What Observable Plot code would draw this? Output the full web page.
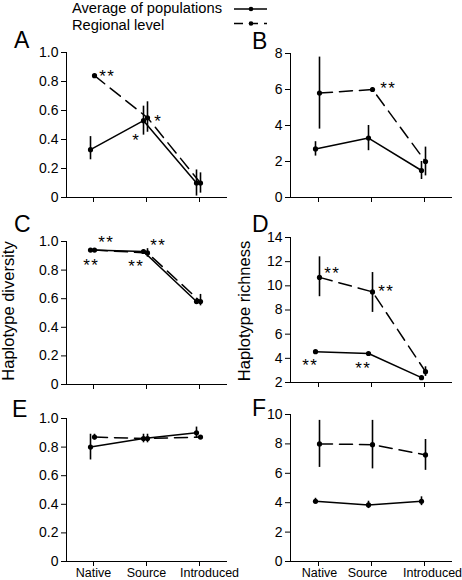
<!DOCTYPE html>
<html><head><meta charset="utf-8">
<script src="https://cdn.jsdelivr.net/npm/d3@7"></script>
<script src="https://cdn.jsdelivr.net/npm/@observablehq/plot@0.6"></script>
<style>
body{margin:0;background:#fff;}
#wrap{position:relative;width:462px;height:580px;overflow:hidden;font-family:"Liberation Sans",Arial,Helvetica,sans-serif;color:#000;}
#wrap g[aria-label^="y-axis"] text{font-size:14px;}
</style></head><body><div id="wrap"></div>
<script>
// ---------- data ----------
const categories = ["Native", "Source", "Introduced"];
const seriesNames = ["Average of populations", "Regional level"];
const panelLetters = ["A", "B", "C", "D", "E", "F"];
const yTitles = ["Haplotype diversity", "Haplotype richness"];

// Panel A
const aAvg = [0.33, 0.53, 0.10], aAvgLo = [0.26, 0.43, 0.01], aAvgHi = [0.42, 0.63, 0.19];
const aReg = [0.84, 0.55, 0.10], aRegLo = [0.84, 0.45, 0.03], aRegHi = [0.84, 0.66, 0.17];
const aTicks = [0, 0.2, 0.4, 0.6, 0.8, 1.0];
const aStars = [["Native", "reg", "**"], ["Source", "reg", "*"], ["Source", "avg", "*"]];
// Panel B
const bAvg = [2.7, 3.3, 1.5], bAvgLo = [2.3, 2.6, 1.0], bAvgHi = [3.1, 4.0, 2.0];
const bReg = [5.8, 6.0, 2.0], bRegLo = [3.8, 5.9, 1.2], bRegHi = [7.8, 6.1, 2.8];
const bTicks = [0, 2, 4, 6, 8];
const bStars = [["Source", "reg", "**"]];
// Panel C
const cAvg = [0.94, 0.93, 0.58], cAvgLo = [0.93, 0.91, 0.56], cAvgHi = [0.95, 0.94, 0.60];
const cReg = [0.94, 0.92, 0.58], cRegLo = [0.93, 0.89, 0.55], cRegHi = [0.95, 0.95, 0.63];
const cTicks = [0, 0.2, 0.4, 0.6, 0.8, 1.0];
const cStars = [["Native", "reg", "**"], ["Native", "avg", "**"], ["Source", "reg", "**"], ["Source", "avg", "**"]];
// Panel D
const dAvg = [4.55, 4.4, 2.4], dAvgLo = [4.5, 4.3, 2.3], dAvgHi = [4.6, 4.5, 2.5];
const dReg = [10.7, 9.5, 2.9], dRegLo = [9.1, 7.8, 2.5], dRegHi = [12.4, 11.1, 3.3];
const dTicks = [2, 4, 6, 8, 10, 12, 14];
const dStars = [["Native", "reg", "**"], ["Source", "reg", "**"], ["Native", "avg", "**"], ["Source", "avg", "**"]];
// Panel E
const eAvg = [0.80, 0.86, 0.90], eAvgLo = [0.71, 0.83, 0.86], eAvgHi = [0.89, 0.89, 0.94];
const eReg = [0.87, 0.86, 0.87], eRegLo = [0.85, 0.83, 0.86], eRegHi = [0.89, 0.89, 0.88];
const eTicks = [0, 0.2, 0.4, 0.6, 0.8, 1.0];
// Panel F
const fAvg = [4.1, 3.85, 4.1], fAvgLo = [3.9, 3.6, 3.8], fAvgHi = [4.3, 4.1, 4.4];
const fReg = [8.0, 7.95, 7.25], fRegLo = [6.4, 6.3, 6.2], fRegHi = [9.6, 9.6, 8.3];
const fTicks = [0, 2, 4, 6, 8, 10];

// ---------- layout / style ----------
const FONT = "Liberation Sans, Arial, Helvetica, sans-serif";
const DASH = "13,7";
const fmtDec = d => d === 0 ? "0" : d.toFixed(1);
const fmtInt = d => String(d);

function panel(cfg) {
  const mk = (v, lo, hi) => categories.map((c, i) => ({cat: c, v: v[i], lo: lo[i], hi: hi[i]}));
  const avg = mk(cfg.avg, cfg.avgLo, cfg.avgHi);
  const reg = mk(cfg.reg, cfg.regLo, cfg.regHi);
  const marks = [];
  const series = [[avg, -3, null], [reg, 1, DASH]];
  for (const [rows, dx, dash] of series) {
    marks.push(Plot.line(rows, {x: "cat", y: "v", dx, stroke: "#000", strokeWidth: 1.5, strokeDasharray: dash ?? undefined}));
    marks.push(Plot.ruleX(rows, {x: "cat", y1: "lo", y2: "hi", dx, stroke: "#000", strokeWidth: 1.6}));
    marks.push(Plot.dot(rows, {x: "cat", y: "v", dx, r: 2.6, fill: "#000", stroke: "none"}));
  }
  (cfg.stars || []).forEach(([cat, s, t], k) => {
    const i = categories.indexOf(cat);
    const v = (s === "avg" ? cfg.avg : cfg.reg)[i];
    const [odx, ody] = cfg.starOff[k];
    marks.push(Plot.text([{cat, v}], {x: "cat", y: "v", text: () => t.split("").join("\u200A"), dx: odx, dy: ody + 1, fontSize: 17, fill: "#000"}));
  });
  if (cfg.xLabels) {
    categories.forEach((c, i) => {
      marks.push(Plot.text([c], {x: d => d, text: d => d, frameAnchor: "bottom", lineAnchor: "top", dy: 7, dx: cfg.xLabelDx[i], fontSize: 12.5, fill: "#000"}));
    });
  }
  const svg = Plot.plot({
    width: 231, height: cfg.h,
    marginLeft: cfg.mL, marginRight: cfg.mR, marginTop: cfg.mT, marginBottom: cfg.mB,
    x: {type: "point", domain: categories, padding: 0.5, tickSize: 5, tickPadding: 2, line: true, label: null, tickFormat: () => ""},
    y: {domain: cfg.domain, ticks: cfg.ticks, tickSize: 5, tickPadding: 3, line: true, label: null, tickFormat: cfg.fmt},
    style: {fontFamily: FONT, fontSize: "14px", color: "#000", background: "transparent", overflow: "visible"},
    marks
  });
  svg.style.position = "absolute";
  svg.style.left = cfg.left + "px";
  svg.style.top = cfg.top + "px";
  svg.style.maxWidth = "none";
  return svg;
}

const L = {mL: 66, mR: 5, left: 0, xLabelDx: [0, 0, 10]}, R = {mL: 59, mR: 11, left: 231, xLabelDx: [1, -4, 8]};
const panels = [
  {...L, top: 30, h: 185, mT: 22, mB: 18, avg: aAvg, avgLo: aAvgLo, avgHi: aAvgHi, reg: aReg, regLo: aRegLo, regHi: aRegHi,
   domain: [0, 1], ticks: aTicks, fmt: fmtDec, stars: aStars, starOff: [[13, 0], [11, 3], [-11, 19]]},
  {...R, top: 30, h: 185, mT: 23, mB: 18, avg: bAvg, avgLo: bAvgLo, avgHi: bAvgHi, reg: bReg, regLo: bRegLo, regHi: bRegHi,
   domain: [0, 8], ticks: bTicks, fmt: fmtInt, stars: bStars, starOff: [[16, -2]]},
  {...L, top: 215, h: 180, mT: 26, mB: 11, avg: cAvg, avgLo: cAvgLo, avgHi: cAvgHi, reg: cReg, regLo: cRegLo, regHi: cRegHi,
   domain: [0, 1], ticks: cTicks, fmt: fmtDec, stars: cStars, starOff: [[12, -9], [-3, 14], [11, -8], [-11, 14]]},
  {...R, top: 215, h: 180, mT: 22, mB: 13, avg: dAvg, avgLo: dAvgLo, avgHi: dAvgHi, reg: dReg, regLo: dRegLo, regHi: dRegHi,
   domain: [2, 14], ticks: dTicks, fmt: fmtInt, stars: dStars, starOff: [[13, -5], [14, -1], [-9, 13], [-9, 14]]},
  {...L, top: 395, h: 185, mT: 23, mB: 19, avg: eAvg, avgLo: eAvgLo, avgHi: eAvgHi, reg: eReg, regLo: eRegLo, regHi: eRegHi,
   domain: [0, 1], ticks: eTicks, fmt: fmtDec, xLabels: true},
  {...R, top: 395, h: 185, mT: 19, mB: 19, avg: fAvg, avgLo: fAvgLo, avgHi: fAvgHi, reg: fReg, regLo: fRegLo, regHi: fRegHi,
   domain: [0, 10], ticks: fTicks, fmt: fmtInt, xLabels: true}
];
const wrap = document.getElementById("wrap");
for (const p of panels) wrap.appendChild(panel(p));

// ---------- overlay text: letters, y titles, legend ----------
const NS = "http://www.w3.org/2000/svg";
const ov = document.createElementNS(NS, "svg");
ov.setAttribute("width", 462); ov.setAttribute("height", 580);
ov.style.position = "absolute"; ov.style.left = "0"; ov.style.top = "0"; ov.style.pointerEvents = "none";
ov.style.fontFamily = FONT;
wrap.appendChild(ov);
function txt(s, x, y, size, attrs = {}) {
  const t = document.createElementNS(NS, "text");
  t.setAttribute("x", x); t.setAttribute("y", y); t.setAttribute("font-size", size); t.setAttribute("fill", "#000");
  for (const k in attrs) t.setAttribute(k, attrs[k]);
  t.textContent = s; ov.appendChild(t); return t;
}
const letterPos = [[14, 48], [252, 49], [14, 232], [252, 232], [12, 417], [252, 416]];
panelLetters.forEach((s, i) => txt(s, letterPos[i][0], letterPos[i][1], 23));
txt(yTitles[0], 0, 0, 16.5, {"text-anchor": "middle", transform: "translate(14,311) rotate(-90)"});
txt(yTitles[1], 0, 0, 16.5, {"text-anchor": "middle", transform: "translate(250,311) rotate(-90)"});
txt(seriesNames[0], 72, 13, 14.7);
txt(seriesNames[1], 72, 29.5, 14.7);
function seg(x1, y1, x2, y2, dash) {
  const l = document.createElementNS(NS, "line");
  l.setAttribute("x1", x1); l.setAttribute("y1", y1); l.setAttribute("x2", x2); l.setAttribute("y2", y2);
  l.setAttribute("stroke", "#000"); l.setAttribute("stroke-width", 1.5);
  if (dash) l.setAttribute("stroke-dasharray", dash);
  ov.appendChild(l);
}
function dotAt(x, y) {
  const c = document.createElementNS(NS, "circle");
  c.setAttribute("cx", x); c.setAttribute("cy", y); c.setAttribute("r", 2.3); c.setAttribute("fill", "#000");
  ov.appendChild(c);
}
seg(234, 9, 267, 9); dotAt(251, 9);
seg(234, 23.5, 267, 23.5, "9,6"); dotAt(251, 23.5);
</script></body></html>
